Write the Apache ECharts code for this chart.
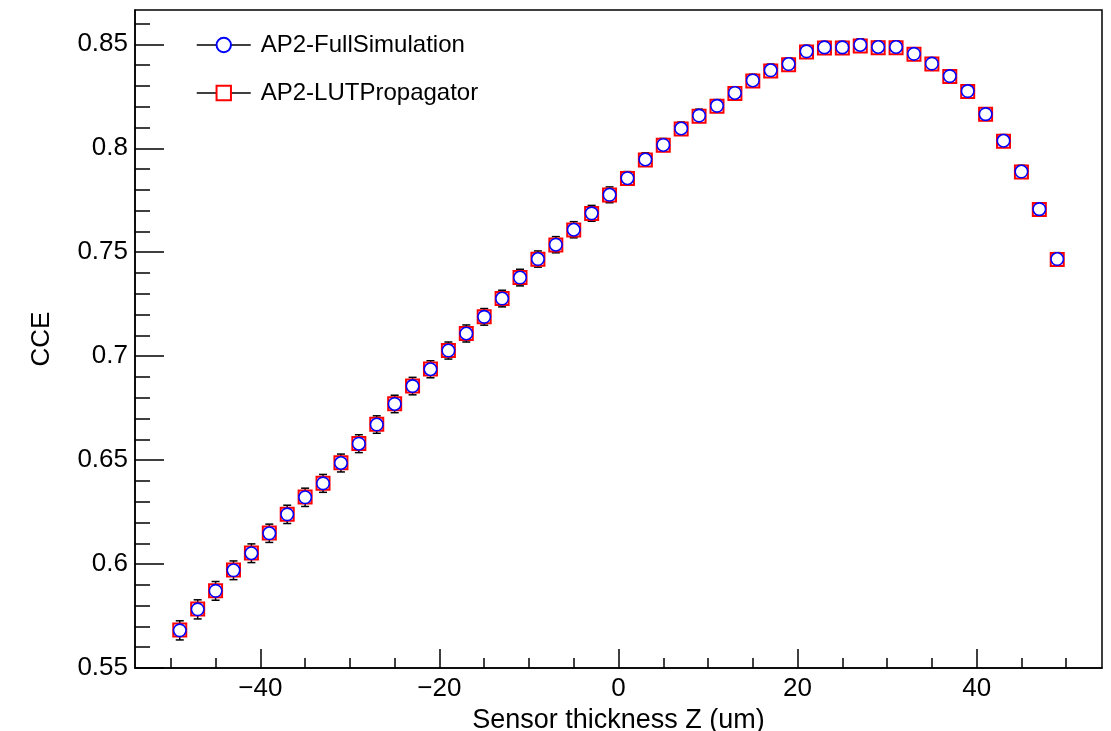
<!DOCTYPE html>
<html>
<head>
<meta charset="utf-8">
<script src="https://cdn.jsdelivr.net/npm/echarts@6/dist/echarts.min.js"></script>
<style>
html,body{margin:0;padding:0;background:#fff;}
#chart{width:1111px;height:731px;}
</style>
</head>
<body>
<div id="chart"></div>
<script>
// ---- data ----
const zPositions = [-49,-47,-45,-43,-41,-39,-37,-35,-33,-31,-29,-27,-25,-23,-21,-19,-17,-15,-13,-11,-9,-7,-5,-3,-1,
  1,3,5,7,9,11,13,15,17,19,21,23,25,27,29,31,33,35,37,39,41,43,45,47,49];
const cceFullSimulation = [0.5681,0.5782,0.5871,0.5970,0.6052,0.6148,0.6239,0.6321,0.6388,0.6486,0.6579,0.6671,0.6770,
  0.6856,0.6937,0.7027,0.7109,0.7189,0.7277,0.7378,0.7467,0.7536,0.7608,0.7687,0.7776,
  0.7856,0.7946,0.8016,0.8095,0.8157,0.8204,0.8266,0.8326,0.8375,0.8405,0.8466,0.8485,0.8485,0.8497,0.8487,0.8487,
  0.8454,0.8407,0.8347,0.8275,0.8164,0.8036,0.7888,0.7707,0.7467];
const cceLUTPropagator = [0.5683,0.5784,0.5872,0.5971,0.6053,0.6149,0.6240,0.6322,0.6389,0.6487,0.6580,0.6672,0.6771,
  0.6857,0.6938,0.7027,0.7109,0.7189,0.7277,0.7378,0.7466,0.7535,0.7607,0.7686,0.7775,
  0.7854,0.7944,0.8014,0.8093,0.8154,0.8202,0.8263,0.8324,0.8372,0.8402,0.8463,0.8482,0.8482,0.8492,0.8484,0.8484,
  0.8452,0.8405,0.8345,0.8273,0.8163,0.8034,0.7886,0.7705,0.7465];
const cceError = [0.0046,0.0046,0.0045,0.0045,0.0045,0.0044,0.0044,0.0044,0.0043,0.0043,0.0043,0.0042,0.0042,
  0.0042,0.0041,0.0041,0.0041,0.0040,0.0040,0.0040,0.0039,0.0039,0.0039,0.0038,0.0038,
  0.0032,0.0032,0.0031,0.0031,0.0031,0.0030,0.0030,0.0030,0.0030,0.0029,0.0029,0.0029,0.0029,0.0029,0.0029,
  0.0029,0.0029,0.0029,0.0029,0.0029,0.0030,0.0030,0.0030,0.0031,0.0031];
const xMajorTicks = [-40,-20,0,20,40];
const xMinorTicks = [-50,-45,-35,-30,-25,-15,-10,-5,5,10,15,25,30,35,45,50];
const yMajorTicks = [0.55,0.6,0.65,0.7,0.75,0.8,0.85];
const yMinorTicks = [0.56,0.57,0.58,0.59,0.61,0.62,0.63,0.64,0.66,0.67,0.68,0.69,0.71,0.72,0.73,0.74,0.76,0.77,0.78,0.79,0.81,0.82,0.83,0.84,0.86];
const seriesNames = ['AP2-FullSimulation','AP2-LUTPropagator'];
const xTitle = 'Sensor thickness Z (um)';
const yTitle = 'CCE';

// ---- chart ----
const FONT = 'Liberation Sans, Arial, Helvetica, sans-serif';
const chart = echarts.init(document.getElementById('chart'), null, {renderer:'canvas'});
const fullData = zPositions.map((z,i)=>[z, cceFullSimulation[i]]);
const lutData = zPositions.map((z,i)=>[z, cceLUTPropagator[i]]);
const errData = zPositions.map((z,i)=>[z, cceFullSimulation[i]-cceError[i], cceFullSimulation[i]+cceError[i]]);

const xRange = {min:-54, max:54};
const yRange = {min:0.55, max:0.8665};
const black = '#000';

chart.setOption({
  animation:false,
  backgroundColor:'#fff',
  textStyle:{fontFamily:FONT, color:black},
  grid:{left:135, right:9, top:10, bottom:63, containLabel:false, outerBoundsMode:'none',
    show:true, borderColor:black, borderWidth:1.5, backgroundColor:'transparent'},
  legend:{
    show:true, orient:'vertical', left:196, top:33, padding:0,
    data:seriesNames,
    itemWidth:54, itemHeight:18, itemGap:24,
    textStyle:{fontFamily:FONT, fontSize:24, color:black, lineHeight:24, padding:[0,0,0,5]},
    lineStyle:{color:black, width:1.5, opacity:1, type:'solid'},
    selectedMode:false
  },
  xAxis:[{
    type:'value', min:xRange.min, max:xRange.max, position:'bottom',
    name:xTitle, nameLocation:'middle', nameGap:32,
    nameTextStyle:{fontFamily:FONT, fontSize:27, color:black},
    axisLine:{show:true, onZero:false, lineStyle:{color:black, width:1.5}},
    axisTick:{show:true, inside:true, length:19, customValues:xMajorTicks, lineStyle:{color:black, width:1.5}},
    axisLabel:{show:true, customValues:xMajorTicks, margin:8, fontFamily:FONT, fontSize:26, color:black,
      formatter:v=>String(v).replace('-','\u2212')},
    splitLine:{show:false}
  },{
    type:'value', min:xRange.min, max:xRange.max, position:'bottom',
    axisLine:{show:false, onZero:false},
    axisTick:{show:true, inside:true, length:10, customValues:xMinorTicks, lineStyle:{color:black, width:1.5}},
    axisLabel:{show:false},
    splitLine:{show:false}
  }],
  yAxis:[{
    type:'value', min:yRange.min, max:yRange.max, position:'left',
    name:yTitle, nameLocation:'middle', nameGap:80, nameRotate:90,
    nameTextStyle:{fontFamily:FONT, fontSize:26, color:black},
    axisLine:{show:true, onZero:false, lineStyle:{color:black, width:1.5}},
    axisTick:{show:true, inside:true, length:29, customValues:yMajorTicks, lineStyle:{color:black, width:1.5}},
    axisLabel:{show:true, customValues:yMajorTicks, margin:7, fontFamily:FONT, fontSize:26, color:black,
      formatter:v=>String(+v.toFixed(2))},
    splitLine:{show:false}
  },{
    type:'value', min:yRange.min, max:yRange.max, position:'left',
    axisLine:{show:false, onZero:false},
    axisTick:{show:true, inside:true, length:15, customValues:yMinorTicks, lineStyle:{color:black, width:1.5}},
    axisLabel:{show:false},
    splitLine:{show:false}
  }],
  series:[
    {
      type:'custom', name:'errors', xAxisIndex:0, yAxisIndex:0, z:1, silent:true,
      data:errData, encode:{x:0, y:[1,2]},
      renderItem:function(params, api){
        const x = api.value(0);
        const lo = api.coord([x, api.value(1)]);
        const hi = api.coord([x, api.value(2)]);
        const hw = 4;
        const st = {stroke:black, lineWidth:1.5};
        return {type:'group', children:[
          {type:'line', shape:{x1:lo[0], y1:lo[1], x2:hi[0], y2:hi[1]}, style:st},
          {type:'line', shape:{x1:lo[0]-hw, y1:lo[1], x2:lo[0]+hw, y2:lo[1]}, style:st},
          {type:'line', shape:{x1:hi[0]-hw, y1:hi[1], x2:hi[0]+hw, y2:hi[1]}, style:st}
        ]};
      }
    },
    {
      type:'line', name:seriesNames[1], xAxisIndex:0, yAxisIndex:0, z:2,
      data:lutData, symbol:'rect', symbolSize:13, showAllSymbol:true,
      lineStyle:{opacity:0, width:0},
      itemStyle:{color:'#fff', borderColor:'#ff0000', borderWidth:2},
      emphasis:{disabled:true}, silent:true
    },
    {
      type:'line', name:seriesNames[0], xAxisIndex:0, yAxisIndex:0, z:3,
      data:fullData, symbol:'circle', symbolSize:12.5, showAllSymbol:true,
      lineStyle:{opacity:0, width:0},
      itemStyle:{color:'#fff', borderColor:'#0000ff', borderWidth:1.6},
      emphasis:{disabled:true}, silent:true
    }
  ]
});
</script>
</body>
</html>
